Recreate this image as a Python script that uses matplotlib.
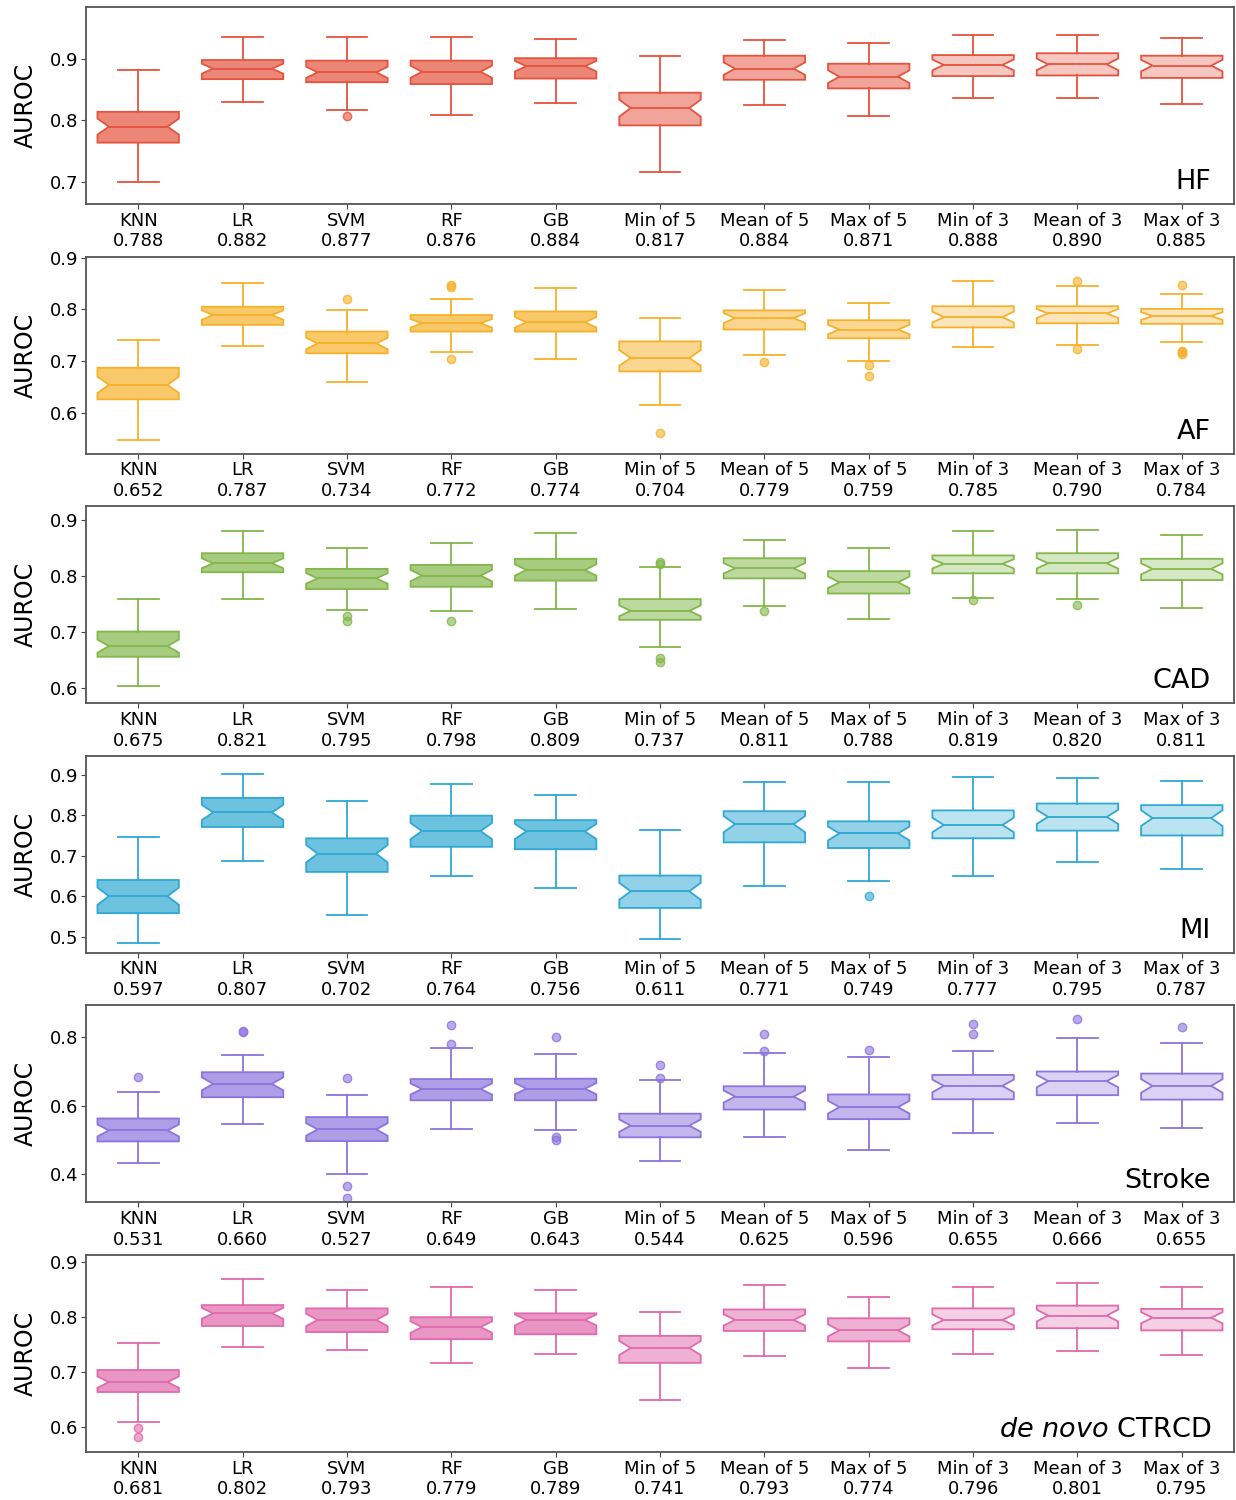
import numpy as np
import matplotlib
matplotlib.use("Agg")
import matplotlib.pyplot as plt
from matplotlib.colors import to_rgba
from matplotlib.path import Path

models = ["KNN", "LR", "SVM", "RF", "GB", "Min of 5", "Mean of 5", "Max of 5",
          "Min of 3", "Mean of 3", "Max of 3"]

# (whisker low, q1, median, q3, whisker high) per model
hf_box = [(0.700, 0.764, 0.790, 0.814, 0.882), (0.830, 0.867, 0.884, 0.898, 0.936),
          (0.817, 0.862, 0.878, 0.897, 0.935), (0.809, 0.859, 0.879, 0.897, 0.935),
          (0.829, 0.868, 0.888, 0.901, 0.932), (0.717, 0.792, 0.820, 0.845, 0.905),
          (0.825, 0.866, 0.884, 0.905, 0.931), (0.808, 0.852, 0.871, 0.892, 0.926),
          (0.837, 0.872, 0.890, 0.906, 0.939), (0.836, 0.873, 0.891, 0.909, 0.938),
          (0.826, 0.869, 0.889, 0.905, 0.933)]
hf_fliers = [[], [], [0.808], [], [], [], [], [], [], [], []]
hf_means = [0.788, 0.882, 0.877, 0.876, 0.884, 0.817, 0.884, 0.871, 0.888, 0.890, 0.885]

af_box = [(0.548, 0.626, 0.654, 0.687, 0.740), (0.729, 0.770, 0.789, 0.805, 0.850),
          (0.659, 0.715, 0.734, 0.757, 0.799), (0.718, 0.757, 0.773, 0.789, 0.820),
          (0.703, 0.757, 0.775, 0.796, 0.842), (0.615, 0.680, 0.706, 0.738, 0.783),
          (0.712, 0.761, 0.783, 0.798, 0.838), (0.701, 0.744, 0.761, 0.779, 0.813),
          (0.727, 0.765, 0.785, 0.806, 0.855), (0.731, 0.773, 0.792, 0.806, 0.846),
          (0.737, 0.772, 0.787, 0.801, 0.829)]
af_fliers = [[], [], [0.820], [0.848, 0.843, 0.704], [], [0.561], [0.698],
             [0.693, 0.671], [], [0.855, 0.724], [0.848, 0.720, 0.717, 0.714]]
af_means = [0.652, 0.787, 0.734, 0.772, 0.774, 0.704, 0.779, 0.759, 0.785, 0.790, 0.784]

cad_box = [(0.604, 0.656, 0.675, 0.701, 0.759), (0.759, 0.807, 0.823, 0.841, 0.881),
           (0.739, 0.777, 0.796, 0.813, 0.850), (0.737, 0.781, 0.801, 0.820, 0.860),
           (0.742, 0.792, 0.811, 0.831, 0.877), (0.673, 0.722, 0.738, 0.759, 0.816),
           (0.747, 0.796, 0.814, 0.832, 0.865), (0.723, 0.769, 0.789, 0.809, 0.850),
           (0.761, 0.805, 0.822, 0.837, 0.880), (0.759, 0.805, 0.823, 0.841, 0.883),
           (0.743, 0.793, 0.813, 0.831, 0.874)]
cad_fliers = [[], [], [0.728, 0.719], [0.720], [], [0.825, 0.822, 0.653, 0.647],
              [0.737], [], [0.758], [0.749], []]
cad_means = [0.675, 0.821, 0.795, 0.798, 0.809, 0.737, 0.811, 0.788, 0.819, 0.820, 0.811]

mi_box = [(0.484, 0.558, 0.600, 0.640, 0.746), (0.688, 0.771, 0.807, 0.843, 0.902),
          (0.554, 0.660, 0.705, 0.743, 0.836), (0.650, 0.722, 0.761, 0.799, 0.878),
          (0.621, 0.716, 0.760, 0.788, 0.850), (0.494, 0.571, 0.612, 0.651, 0.764),
          (0.625, 0.733, 0.778, 0.810, 0.882), (0.638, 0.719, 0.755, 0.785, 0.882),
          (0.650, 0.743, 0.776, 0.812, 0.895), (0.684, 0.762, 0.796, 0.829, 0.892),
          (0.668, 0.750, 0.793, 0.825, 0.885)]
mi_fliers = [[], [], [], [], [], [], [], [0.600], [], [], []]
mi_means = [0.597, 0.807, 0.702, 0.764, 0.756, 0.611, 0.771, 0.749, 0.777, 0.795, 0.787]

stroke_box = [(0.433, 0.496, 0.528, 0.563, 0.640), (0.547, 0.625, 0.664, 0.698, 0.747),
              (0.402, 0.497, 0.531, 0.567, 0.631), (0.531, 0.616, 0.649, 0.678, 0.769),
              (0.528, 0.616, 0.650, 0.679, 0.750), (0.440, 0.508, 0.542, 0.577, 0.675),
              (0.510, 0.589, 0.627, 0.657, 0.753), (0.472, 0.561, 0.596, 0.633, 0.742),
              (0.522, 0.619, 0.658, 0.690, 0.759), (0.551, 0.631, 0.672, 0.700, 0.798),
              (0.535, 0.618, 0.658, 0.694, 0.784)]
stroke_fliers = [[0.684], [0.818, 0.814], [0.682, 0.367, 0.331], [0.837, 0.780],
                 [0.800, 0.509, 0.500], [0.718, 0.682], [0.810, 0.760], [0.762],
                 [0.838, 0.810], [0.852], [0.830]]
stroke_means = [0.531, 0.660, 0.527, 0.649, 0.643, 0.544, 0.625, 0.596, 0.655, 0.666, 0.655]

ctrcd_box = [(0.609, 0.664, 0.682, 0.704, 0.753), (0.745, 0.784, 0.807, 0.822, 0.869),
             (0.740, 0.773, 0.795, 0.816, 0.849), (0.716, 0.760, 0.782, 0.800, 0.855),
             (0.733, 0.769, 0.795, 0.807, 0.849), (0.650, 0.717, 0.744, 0.766, 0.810),
             (0.729, 0.775, 0.795, 0.814, 0.858), (0.708, 0.756, 0.776, 0.798, 0.836),
             (0.733, 0.778, 0.795, 0.816, 0.855), (0.739, 0.780, 0.803, 0.821, 0.862),
             (0.731, 0.776, 0.799, 0.815, 0.855)]
ctrcd_fliers = [[0.598, 0.582], [], [], [], [], [], [], [], [], [], []]
ctrcd_means = [0.681, 0.802, 0.793, 0.779, 0.789, 0.741, 0.793, 0.774, 0.796, 0.801, 0.795]

panels = [
    ("HF", hf_box, hf_fliers, hf_means, "#e5533d", (0.6645, 0.984), [0.7, 0.8, 0.9]),
    ("AF", af_box, af_fliers, af_means, "#f6b12a", (0.521, 0.902), [0.6, 0.7, 0.8, 0.9]),
    ("CAD", cad_box, cad_fliers, cad_means, "#82b74a", (0.573, 0.925), [0.6, 0.7, 0.8, 0.9]),
    ("MI", mi_box, mi_fliers, mi_means, "#2fa8d3", (0.46, 0.947), [0.5, 0.6, 0.7, 0.8, 0.9]),
    ("Stroke", stroke_box, stroke_fliers, stroke_means, "#8c74dd", (0.318, 0.893), [0.4, 0.6, 0.8]),
    (r"$\it{de\ novo}$ CTRCD", ctrcd_box, ctrcd_fliers, ctrcd_means, "#e06aad", (0.555, 0.913), [0.6, 0.7, 0.8, 0.9]),
]

alphas = [0.7] * 5 + [0.52] * 3 + [0.32] * 3
W = 0.78
plt.rcParams["mathtext.fontset"] = "dejavusans"

fig = plt.figure(figsize=(12.36, 15), dpi=100)
positions = np.arange(1, 12)

for i, (name, box, fliers, means, col, ylim, yticks) in enumerate(panels):
    top = 7 + 249.6 * i
    ax = fig.add_axes([86 / 1236, 1 - (top + 197) / 1500, 1148 / 1236, 197 / 1500])
    stats = []
    for (lo, q1, med, q3, hi), fl in zip(box, fliers):
        nh = 0.26 * (q3 - q1)
        stats.append(dict(whislo=lo, q1=q1, med=med, q3=q3, whishi=hi,
                          fliers=fl, cilo=med - nh, cihi=med + nh))
    bp = ax.bxp(stats, positions=positions, widths=W, shownotches=True,
                patch_artist=True, manage_ticks=False)
    for j, (b, md) in enumerate(zip(bp["boxes"], bp["medians"])):
        # shallower notch, like the original
        p = b.get_path()
        v = p.vertices.copy()
        inner = np.isclose(np.abs(v[:, 0] - positions[j]), W * 0.25)
        v[inner, 0] = positions[j] + np.sign(v[inner, 0] - positions[j]) * W * 0.36
        b.set_path(Path(v, p.codes))
        b.set_facecolor(to_rgba(col, alphas[j]))
        b.set_edgecolor(col)
        b.set_linewidth(1.3)
        md.set_xdata([positions[j] - W * 0.36, positions[j] + W * 0.36])
        md.set_color(col)
        md.set_linewidth(1.3)
        for ln in bp["whiskers"][2 * j:2 * j + 2] + bp["caps"][2 * j:2 * j + 2]:
            ln.set_color(col)
            ln.set_linewidth(1.3)
        f = bp["fliers"][j]
        f.set_marker("o")
        f.set_markersize(6)
        f.set_markerfacecolor(to_rgba(col, 0.6))
        f.set_markeredgecolor(to_rgba(col, 0.8))

    ax.set_xlim(0.5, 11.5)
    ax.set_ylim(*ylim)
    ax.set_yticks(yticks)
    ax.set_yticklabels([f"{t:.1f}" for t in yticks])
    ax.set_xticks(positions)
    ax.set_xticklabels([f"{m}\n{v:.3f}" for m, v in zip(models, means)])
    ax.tick_params(labelsize=13, pad=2, color="#444444")
    ax.set_ylabel("AUROC", fontsize=17)
    ax.yaxis.set_label_coords(-0.042, 0.5)
    for s in ax.spines.values():
        s.set_color("#555555")
        s.set_linewidth(1.3)
    ax.text(0.98, 0.045, name, transform=ax.transAxes, ha="right", va="bottom",
            fontsize=19.5)

fig.savefig("out.png", dpi=100)
